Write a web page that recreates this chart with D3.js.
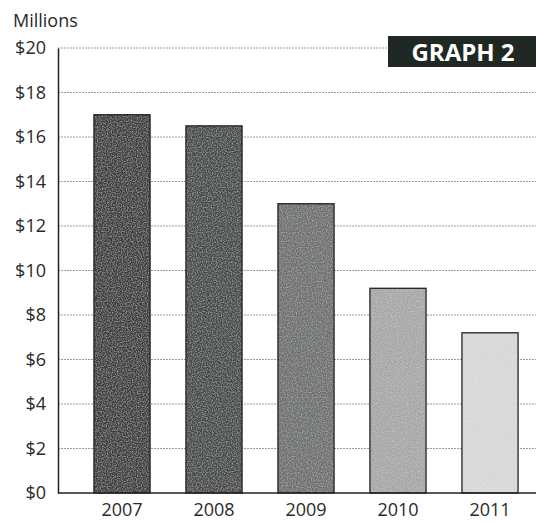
<!DOCTYPE html>
<html><head><meta charset="utf-8">
<script src="https://cdn.jsdelivr.net/npm/d3@7"></script>
<style>body{margin:0;background:#fff;} svg{display:block;}</style>
</head><body>
<svg id="c" width="536" height="523"></svg>
<script>
const years = ["2007","2008","2009","2010","2011"];
const values = [17.0, 16.5, 13.0, 9.2, 7.2];
const barColors = ["#3d413e","#474b48","#6e716f","#a6a7a6","#d6d7d6"];
const yTicks = [0,2,4,6,8,10,12,14,16,18,20];
const yLabel = "Millions";
const badge = "GRAPH 2";

const svg = d3.select("#c");
const font = "'Open Sans', 'Noto Sans', sans-serif";
const x0 = 58, x1 = 536, yTop = 48, yBot = 493;

const y = d3.scaleLinear().domain([0,20]).range([yBot, yTop]);
const x = d3.scaleBand().domain(years).range([76, 536]).paddingInner(0.39).paddingOuter(0.195);

// texture filter
const defs = svg.append("defs");
const f = defs.append("filter").attr("id","tex").attr("x",0).attr("y",0).attr("width",1).attr("height",1);
f.append("feTurbulence").attr("type","fractalNoise").attr("baseFrequency",0.8).attr("numOctaves",1).attr("seed",3).attr("result","n");
f.append("feColorMatrix").attr("in","n").attr("type","matrix")
  .attr("values","0 0 0 0 1  0 0 0 0 1  0 0 0 0 1  0 0 0 0.7 -0.3").attr("result","w");
f.append("feComposite").attr("in","w").attr("in2","SourceGraphic").attr("operator","in").attr("result","wc");
f.append("feMerge").call(m=>{m.append("feMergeNode").attr("in","SourceGraphic");m.append("feMergeNode").attr("in","wc");});

// gridlines
svg.append("g").selectAll("line").data(yTicks.filter(d=>d>0)).join("line")
  .attr("x1", x0).attr("x2", x1).attr("y1", d=>y(d)).attr("y2", d=>y(d))
  .attr("stroke","#9a9a9a").attr("stroke-width",1).attr("stroke-dasharray","2,1");

// bars
svg.append("g").selectAll("rect").data(values).join("rect")
  .attr("x",(d,i)=>x(years[i])).attr("width",x.bandwidth())
  .attr("y",d=>y(d)).attr("height",d=>yBot-y(d))
  .attr("fill",(d,i)=>barColors[i]).attr("filter","url(#tex)");
svg.append("g").selectAll("rect").data(values).join("rect")
  .attr("x",(d,i)=>x(years[i])).attr("width",x.bandwidth())
  .attr("y",d=>y(d)).attr("height",d=>yBot-y(d))
  .attr("fill","none").attr("stroke","#222").attr("stroke-width",1.3);

// axes
const ya = d3.axisLeft(y).tickValues(yTicks).tickFormat(d=>"$"+d).tickSize(0).tickPadding(12);
const yg = svg.append("g").attr("transform",`translate(${x0},0)`).call(ya);
yg.select(".domain").attr("stroke","#222").attr("stroke-width",1.5);
yg.selectAll("text").attr("font-family",font).attr("font-size",18).attr("fill","#2a2a2a");

const xa = d3.axisBottom(x).tickSize(0).tickPadding(10);
const xg = svg.append("g").attr("transform",`translate(0,${yBot})`).call(xa);
xg.select(".domain").remove();
xg.selectAll("text").attr("font-family",font).attr("font-size",18).attr("fill","#2a2a2a");
svg.append("line").attr("x1",x0).attr("x2",x1).attr("y1",yBot).attr("y2",yBot).attr("stroke","#222").attr("stroke-width",1.5);

svg.append("text").attr("x",13).attr("y",27).text(yLabel)
  .attr("font-family",font).attr("font-size",18).attr("fill","#2a2a2a");

// badge
svg.append("rect").attr("x",388).attr("y",36).attr("width",148).attr("height",31).attr("fill","#1f2822");
svg.append("text").attr("x",463).attr("y",61).attr("text-anchor","middle").text(badge)
  .attr("font-family",font).attr("font-weight","bold").attr("font-size",24).attr("fill","#fff");
</script>
</body></html>
